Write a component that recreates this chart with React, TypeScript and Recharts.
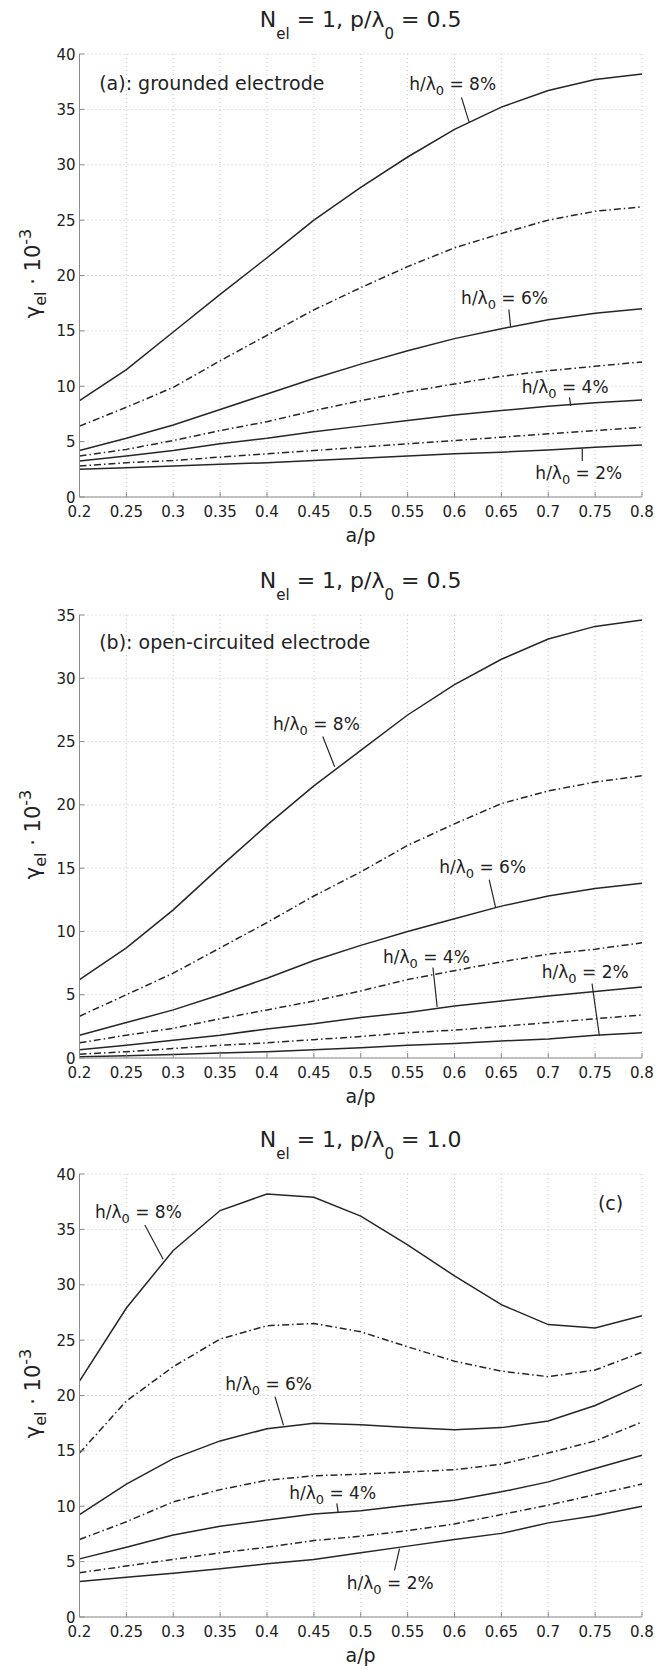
import { LineChart, Line, XAxis, YAxis, CartesianGrid, ReferenceLine, ReferenceDot } from "recharts";

// a/p values (x axis)
const aOverP = [0.2, 0.25, 0.3, 0.35, 0.4, 0.45, 0.5, 0.55, 0.6, 0.65, 0.7, 0.75, 0.8];
const xTickLabels = ["0.2", "0.25", "0.3", "0.35", "0.4", "0.45", "0.5", "0.55", "0.6", "0.65", "0.7", "0.75", "0.8"];
const yTicks40 = [0, 5, 10, 15, 20, 25, 30, 35, 40];
const yTicks35 = [0, 5, 10, 15, 20, 25, 30, 35];

// (a) grounded electrode, p/λ0 = 0.5   (h/λ0 = 2..8 %)
const a2 = [2.5, 2.65, 2.8, 2.95, 3.1, 3.3, 3.5, 3.7, 3.9, 4.05, 4.25, 4.5, 4.7];
const a3 = [2.8, 3.1, 3.3, 3.6, 3.9, 4.2, 4.5, 4.8, 5.1, 5.4, 5.7, 6.0, 6.3];
const a4 = [3.25, 3.7, 4.2, 4.8, 5.3, 5.9, 6.4, 6.9, 7.4, 7.8, 8.2, 8.5, 8.75];
const a5 = [3.7, 4.3, 5.1, 6.0, 6.8, 7.8, 8.7, 9.5, 10.2, 10.9, 11.4, 11.8, 12.2];
const a6 = [4.2, 5.3, 6.5, 7.9, 9.3, 10.7, 12.0, 13.2, 14.3, 15.2, 16.0, 16.6, 17.0];
const a7 = [6.4, 8.1, 9.9, 12.3, 14.6, 16.9, 18.9, 20.8, 22.5, 23.8, 25.0, 25.8, 26.2];
const a8 = [8.7, 11.5, 14.9, 18.3, 21.6, 25.0, 27.95, 30.7, 33.2, 35.2, 36.7, 37.7, 38.2];

// (b) open-circuited electrode, p/λ0 = 0.5
const b2 = [0.1, 0.17, 0.28, 0.4, 0.5, 0.65, 0.8, 1.0, 1.15, 1.35, 1.5, 1.8, 2.0];
const b3 = [0.3, 0.5, 0.75, 1.0, 1.2, 1.45, 1.7, 2.0, 2.2, 2.5, 2.8, 3.1, 3.4];
const b4 = [0.65, 1.0, 1.4, 1.8, 2.3, 2.7, 3.2, 3.6, 4.1, 4.5, 4.9, 5.25, 5.6];
const b5 = [1.2, 1.8, 2.35, 3.1, 3.8, 4.5, 5.3, 6.2, 6.9, 7.6, 8.2, 8.6, 9.1];
const b6 = [1.8, 2.8, 3.8, 5.0, 6.3, 7.7, 8.9, 10.0, 11.0, 12.0, 12.8, 13.4, 13.8];
const b7 = [3.3, 5.0, 6.7, 8.7, 10.7, 12.8, 14.7, 16.8, 18.5, 20.1, 21.1, 21.8, 22.3];
const b8 = [6.2, 8.7, 11.7, 15.1, 18.4, 21.5, 24.3, 27.1, 29.5, 31.5, 33.1, 34.1, 34.6];

// (c) p/λ0 = 1.0
const c2 = [3.2, 3.6, 3.95, 4.35, 4.8, 5.2, 5.8, 6.4, 7.0, 7.55, 8.5, 9.15, 10.0];
const c3 = [4.0, 4.6, 5.2, 5.8, 6.3, 6.9, 7.3, 7.8, 8.4, 9.25, 10.1, 11.05, 12.0];
const c4 = [5.25, 6.3, 7.4, 8.2, 8.75, 9.3, 9.6, 10.1, 10.55, 11.3, 12.2, 13.4, 14.6];
const c5 = [7.0, 8.6, 10.4, 11.5, 12.35, 12.75, 12.9, 13.1, 13.3, 13.8, 14.8, 15.9, 17.6];
const c6 = [9.25, 12.0, 14.3, 15.9, 17.0, 17.5, 17.35, 17.1, 16.9, 17.1, 17.7, 19.1, 21.0];
const c7 = [14.8, 19.5, 22.6, 25.1, 26.3, 26.5, 25.75, 24.4, 23.1, 22.2, 21.7, 22.3, 23.9];
const c8 = [21.3, 27.9, 33.1, 36.7, 38.2, 37.9, 36.2, 33.6, 30.8, 28.2, 26.4, 26.1, 27.2];

const FONT = "'DejaVu Sans', sans-serif";
const INK = "#222";
const BOX = "#8a8a8a";
const LINE = "#262626";
const DASHDOT = "7 3 1.5 3";

const seriesKeys = ["h2", "h3", "h4", "h5", "h6", "h7", "h8"];

function rows(cols: number[][]) {
  return aOverP.map((x, i) => {
    const r: any = { x };
    seriesKeys.forEach((k, j) => (r[k] = cols[j][i]));
    return r;
  });
}

const BottomTick = (props: any) => {
  const { x, y, payload } = props;
  const i = aOverP.indexOf(payload.value);
  return (
    <g>
      <line x1={x} x2={x} y1={y} y2={y - 5} stroke={BOX} />
      <text x={x} y={y + 20} textAnchor="middle" fontSize={15} fontFamily={FONT} fill={INK}>
        {i >= 0 ? xTickLabels[i] : payload.value}
      </text>
    </g>
  );
};
const TopTick = (props: any) => <line x1={props.x} x2={props.x} y1={props.y} y2={props.y + 5} stroke={BOX} />;
const LeftTick = (props: any) => {
  const { x, y, payload } = props;
  return (
    <g>
      <line x1={x} x2={x + 5} y1={y} y2={y} stroke={BOX} />
      <text x={x - 4} y={y + 5.5} textAnchor="end" fontSize={15} fontFamily={FONT} fill={INK}>
        {payload.value}
      </text>
    </g>
  );
};
const RightTick = (props: any) => <line x1={props.x} x2={props.x - 5} y1={props.y} y2={props.y} stroke={BOX} />;

type Note = { pct: string; x: number; y: number; seg: [number, number, number, number] };

function HLabel({ cx, cy, pct }: any) {
  return (
    <text x={cx} y={cy + 6} textAnchor="middle" fontSize={17} fontFamily={FONT} fill={INK}>
      h/λ<tspan fontSize={13} dy={5}>0</tspan>
      <tspan dy={-5}> = {pct}</tspan>
    </text>
  );
}

function Panel({ top, height, data, yMax, yTicks, p, tag, tagX, tagY, notes }: any) {
  const plotTop = 54;
  const plotH = 443;
  const cx = 360.6;
  const ly = plotTop + plotH / 2 - 2;
  return (
    <div style={{ position: "absolute", left: 0, top, width: 668, height }}>
      <LineChart width={668} height={560} data={data} margin={{ top: plotTop, right: 26, bottom: 0, left: 0 }}>
        <CartesianGrid stroke="#c4c4c4" strokeDasharray="1 3" />
        <XAxis
          dataKey="x"
          type="number"
          domain={[0.2, 0.8]}
          ticks={aOverP}
          height={63}
          tickSize={0}
          tickMargin={0}
          stroke={BOX}
          tick={BottomTick}
          interval={0}
        />
        <XAxis
          xAxisId="top"
          orientation="top"
          dataKey="x"
          type="number"
          domain={[0.2, 0.8]}
          ticks={aOverP}
          height={0}
          tickSize={0}
          tickMargin={0}
          stroke={BOX}
          tick={TopTick}
          interval={0}
        />
        <YAxis
          type="number"
          domain={[0, yMax]}
          ticks={yTicks}
          width={79.5}
          tickSize={0}
          tickMargin={0}
          stroke={BOX}
          tick={LeftTick}
          interval={0}
        />
        <YAxis
          yAxisId="right"
          orientation="right"
          type="number"
          domain={[0, yMax]}
          ticks={yTicks}
          width={0}
          tickSize={0}
          tickMargin={0}
          stroke={BOX}
          tick={RightTick}
          interval={0}
        />
        {seriesKeys.map((k, j) => (
          <Line
            key={k}
            dataKey={k}
            type="linear"
            stroke={LINE}
            strokeWidth={1.5}
            strokeDasharray={j % 2 === 1 ? DASHDOT : undefined}
            dot={false}
            activeDot={false}
            isAnimationActive={false}
          />
        ))}
        {notes.map((n: Note, i: number) => (
          <ReferenceLine
            key={"s" + i}
            segment={[
              { x: n.seg[0], y: n.seg[1] },
              { x: n.seg[2], y: n.seg[3] },
            ]}
            stroke={LINE}
            strokeWidth={1.2}
          />
        ))}
        {notes.map((n: Note, i: number) => (
          <ReferenceDot
            key={"t" + i}
            x={n.x}
            y={n.y}
            r={0}
            shape={(sp: any) => <HLabel cx={sp.cx} cy={sp.cy} pct={n.pct} />}
          />
        ))}
        <ReferenceDot
          x={tagX}
          y={tagY}
          r={0}
          shape={(sp: any) => (
            <text x={sp.cx} y={sp.cy + 7} textAnchor="start" fontSize={19} fontFamily={FONT} fill={INK}>
              {tag}
            </text>
          )}
        />
      </LineChart>
      <svg width={668} height={560} style={{ position: "absolute", left: 0, top: 0, pointerEvents: "none" }}>
        <text x={cx} y={27} textAnchor="middle" fontSize={22} fontFamily={FONT} fill={INK}>
          N<tspan fontSize={15} dy={12}>el</tspan>
          <tspan dy={-12}> = 1, p/λ</tspan>
          <tspan fontSize={15} dy={12}>0</tspan>
          <tspan dy={-12}> = {p}</tspan>
        </text>
        <text
          x={40}
          y={ly}
          transform={`rotate(-90 40 ${ly})`}
          textAnchor="middle"
          fontSize={21}
          fontFamily={FONT}
          fill={INK}
        >
          γ<tspan fontSize={16} dy={6}>el</tspan>
          <tspan dy={-6}> · 10</tspan>
          <tspan fontSize={16} dy={-9}>-3</tspan>
        </text>
        <text x={cx} y={plotTop + plotH + 45} textAnchor="middle" fontSize={19} fontFamily={FONT} fill={INK}>
          a/p
        </text>
      </svg>
    </div>
  );
}

const notesA: Note[] = [
  { pct: "8%", x: 0.598, y: 37.3, seg: [0.6074, 36.09, 0.6156, 33.85] },
  { pct: "6%", x: 0.6534, y: 18.0, seg: [0.658, 16.93, 0.6598, 15.37] },
  { pct: "4%", x: 0.718, y: 9.94, seg: [0.7226, 9.0, 0.724, 8.23] },
  { pct: "2%", x: 0.7326, y: 2.17, seg: [0.7363, 4.35, 0.7363, 3.26] },
];
const notesB: Note[] = [
  { pct: "8%", x: 0.4527, y: 26.4, seg: [0.4595, 25.4, 0.4722, 23.0] },
  { pct: "6%", x: 0.63, y: 15.1, seg: [0.637, 14.1, 0.6438, 11.9] },
  { pct: "4%", x: 0.57, y: 8.0, seg: [0.577, 7.15, 0.5815, 4.04] },
  { pct: "2%", x: 0.7394, y: 6.8, seg: [0.7467, 5.88, 0.7545, 1.77] },
];
const notesC: Note[] = [
  { pct: "8%", x: 0.2628, y: 36.6, seg: [0.2697, 35.4, 0.2892, 32.3] },
  { pct: "6%", x: 0.4017, y: 21.05, seg: [0.4085, 19.9, 0.4176, 17.3] },
  { pct: "4%", x: 0.47, y: 11.24, seg: [0.4745, 10.26, 0.4759, 9.44] },
  { pct: "2%", x: 0.5314, y: 3.07, seg: [0.536, 4.2, 0.5414, 6.18] },
];

export default function App() {
  return (
    <div
      style={{
        position: "absolute",
        left: 0,
        top: 0,
        width: 668,
        height: 1669,
        overflow: "hidden",
        background: "#fff",
      }}
    >
      <Panel
        top={0}
        height={560}
        data={rows([a2, a3, a4, a5, a6, a7, a8])}
        yMax={40}
        yTicks={yTicks40}
        p="0.5"
        tag="(a): grounded electrode"
        tagX={0.221}
        tagY={37.4}
        notes={notesA}
      />
      <Panel
        top={560.7}
        height={560}
        data={rows([b2, b3, b4, b5, b6, b7, b8])}
        yMax={35}
        yTicks={yTicks35}
        p="0.5"
        tag="(b): open-circuited electrode"
        tagX={0.221}
        tagY={32.85}
        notes={notesB}
      />
      <Panel
        top={1120}
        height={549}
        data={rows([c2, c3, c4, c5, c6, c7, c8])}
        yMax={40}
        yTicks={yTicks40}
        p="1.0"
        tag="(c)"
        tagX={0.753}
        tagY={37.4}
        notes={notesC}
      />
    </div>
  );
}
